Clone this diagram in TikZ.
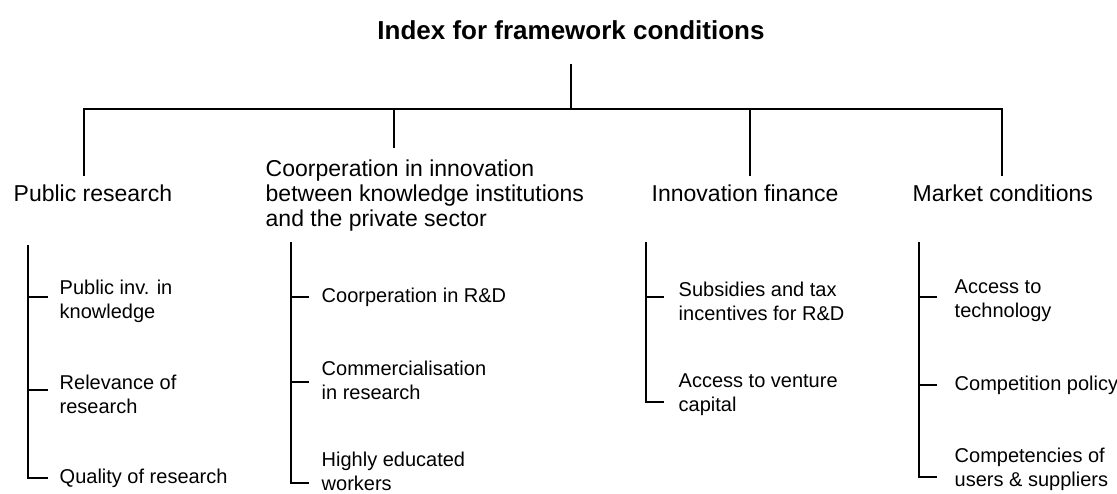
\documentclass[tikz,border=0pt]{standalone}
\usepackage{fontspec}
\setmainfont{Liberation Sans}
\usepackage{tikz}

\tikzset{
  head/.style={anchor=west, align=left, inner sep=0pt, font=\fontsize{23}{25}\selectfont},
  leaf/.style={anchor=west, align=left, inner sep=0pt, font=\fontsize{20}{24}\selectfont},
}

\begin{document}
\begin{tikzpicture}[x=1pt, y=-1pt, line width=1.4pt]
  \useasboundingbox (0,0) rectangle (1117,493);

  % Title and main bar
  \node[anchor=base, inner sep=0pt, font=\bfseries\fontsize{26}{30}\selectfont] (title) at (571,39) {Index for framework conditions};
  \coordinate (hub) at (571,109);
  \draw (title.south) ++(0,24) -- (hub);

  % Four groups
  \node[head] (pub) at (13,193) {Public research};
  \node[head] (coop) at (265,195.5) {Coorperation in innovation\\between knowledge institutions\\and the private sector};
  \node[head] (fin) at (651,193) {Innovation finance};
  \node[head] (mkt) at (912,193) {Market conditions};

  \coordinate (pubtop) at (84,176);
  \coordinate (cooptop) at (394,148);
  \coordinate (fintop) at (750,176);
  \coordinate (mkttop) at (1002,176);
  \draw (pubtop) |- (hub) -| (mkttop);
  \draw (cooptop) -- (cooptop |- hub);
  \draw (fintop) -- (fintop |- hub);

  % Public research
  \coordinate (pubstem) at (28,245);
  \foreach \y [count=\i] in {297,390,478} \coordinate (pubt\i) at (48,\y);
  \draw (pubstem) |- (pubt3);
  \foreach \i in {1,2} \draw (pubstem |- pubt\i) -- (pubt\i);
  \node[leaf] (pub1) at (59,301) {Public inv. in\\knowledge};
  \node[leaf] (pub2) at (59,394.5) {Relevance of\\research};
  \node[leaf] (pub3) at (59,478) {Quality of research};

  % Cooperation
  \coordinate (coopstem) at (291,242);
  \foreach \y [count=\i] in {297,382,483} \coordinate (coopt\i) at (309,\y);
  \draw (coopstem) |- (coopt3);
  \foreach \i in {1,2} \draw (coopstem |- coopt\i) -- (coopt\i);
  \node[leaf] (coop1) at (321,297) {Coorperation in R\&D};
  \node[leaf] (coop2) at (321,380.5) {Commercialisation\\in research};
  \node[leaf] (coop3) at (321,471) {Highly educated\\workers};

  % Innovation finance
  \coordinate (finstem) at (646,242);
  \foreach \y [count=\i] in {297,402} \coordinate (fint\i) at (664,\y);
  \draw (finstem) |- (fint2);
  \draw (finstem |- fint1) -- (fint1);
  \node[leaf] (fin1) at (678,301) {Subsidies and tax\\incentives for R\&D};
  \node[leaf] (fin2) at (678,395) {Access to venture\\capital};

  % Market conditions
  \coordinate (mktstem) at (919,242);
  \foreach \y [count=\i] in {297,385,477} \coordinate (mktt\i) at (937,\y);
  \draw (mktstem) |- (mktt3);
  \foreach \i in {1,2} \draw (mktstem |- mktt\i) -- (mktt\i);
  \node[leaf] (mkt1) at (954,301) {Access to\\technology};
  \node[leaf] (mkt2) at (954,385) {Competition policy};
  \node[leaf] (mkt3) at (954,469) {Competencies of\\users \& suppliers};
\end{tikzpicture}
\end{document}
